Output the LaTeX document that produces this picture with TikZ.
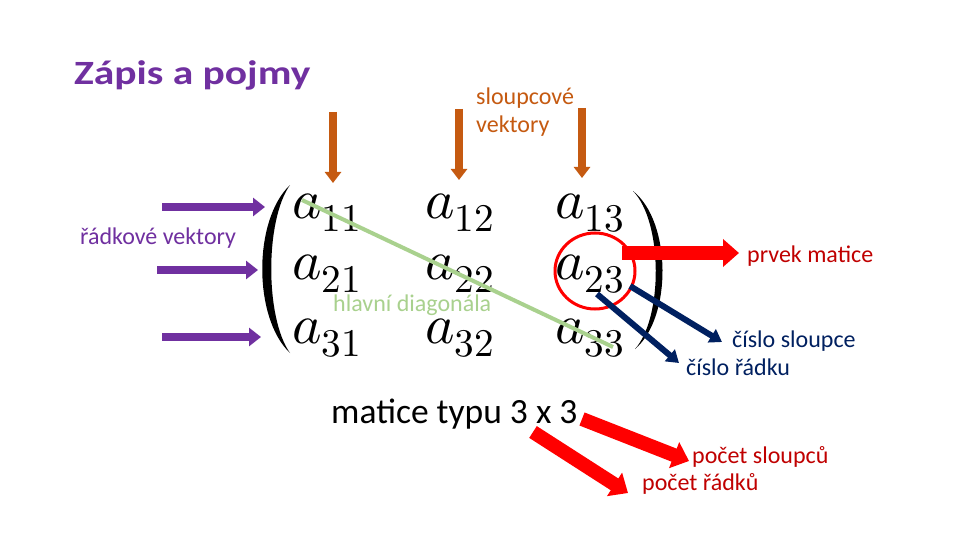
\documentclass[tikz,border=0pt]{standalone}
\usepackage{fontspec}
\usepackage{unicode-math}
\setmainfont{Carlito}
\setmathfont{Latin Modern Math}
\usetikzlibrary{arrows.meta,shapes.geometric}
\definecolor{ppurple}{HTML}{7030A0}
\definecolor{porange}{HTML}{C55A11}
\definecolor{pred}{HTML}{FF0000}
\definecolor{dred}{HTML}{C00000}
\definecolor{pnavy}{HTML}{002060}
\definecolor{pgreen}{HTML}{A9D18E}
\tikzset{
  lbl/.style={anchor=base west, inner sep=0pt, font=\fontsize{24}{29}\selectfont},
  ent/.style={anchor=base west, inner sep=0pt, font=\fontsize{56}{60}\selectfont},
  purplearrow/.style={draw=ppurple, line width=8pt, -{Triangle[length=12pt,width=18pt]}},
  orangearrow/.style={draw=porange, line width=8pt, -{Triangle[length=11pt,width=16pt]}},
  redarrow/.style={draw=pred, line width=14pt, -{Triangle[length=16pt,width=27pt]}},
  navyarrow/.style={draw=pnavy, line width=6pt, -{Triangle[length=12pt,width=15pt]}},
}
\begin{document}
\begin{tikzpicture}[x=1pt,y=-1pt]
\useasboundingbox[fill=white] (0,0) rectangle (960,540);

% title
\node[anchor=base west, inner sep=0pt, text=ppurple, font=\fontsize{34}{40}\bfseries, xscale=1.22] (title) at (74,85) {Zápis a pojmy};

% labels
\node[lbl, text=porange, align=left] (colvec) at (476,105) {sloupcové};
\node[lbl, text=porange] (colvec2) at (476,133) {vektory};
\node[lbl, text=ppurple] (rowvec) at (80,244) {řádkové vektory};

% matrix entries
\node[ent] (a11) at (292,218) {$a_{11}$};
\node[ent] (a12) at (425,218) {$a_{12}$};
\node[ent] (a13) at (555,218) {$a_{13}$};
\node[ent] (a21) at (292,279) {$a_{21}$};
\node[ent] (a22) at (425,279) {$a_{22}$};
\node[ent] (a23) at (555,279) {$a_{23}$};
\node[ent] (a31) at (292,343) {$a_{31}$};
\node[ent] (a32) at (425,343) {$a_{32}$};
\node[ent] (a33) at (555,343) {$a_{33}$};

% parentheses
\fill (290,185) .. controls (253,220) and (253,318) .. (290,353)
      .. controls (265,318) and (265,220) .. (290,185);
\fill (633,191) .. controls (672,222) and (672,318) .. (635,349)
      .. controls (663,318) and (663,222) .. (633,191);

% diagonal label
\node[lbl, text=pgreen] (diaglbl) at (333,311) {hlavní diagonála};

% diagonal line
\coordinate (d1) at (302,200);
\coordinate (d2) at (613,347);
\draw[pgreen, line width=4pt] (d1) -- (d2);

% red circle
\node[draw=pred, line width=3pt, ellipse, minimum width=80pt, minimum height=76pt, inner sep=0pt] (circ) at (595,271) {};

% prvek matice
\node[lbl, text=dred] (prvek) at (747,262) {prvek matice};
\coordinate (p1) at (622,253);
\coordinate (p2) at (739,253);
\draw[redarrow] (p1) -- (p2);

% cislo sloupce / radku
\node[lbl, text=pnavy] (sloupce) at (732,347) {číslo sloupce};
\node[lbl, text=pnavy] (radku) at (686,375) {číslo řádku};
\coordinate (n1s) at (630,286);
\coordinate (n1e) at (722,342);
\coordinate (n2s) at (597,294);
\coordinate (n2e) at (679,363);
\draw[navyarrow] (n1s) -- (n1e);
\draw[navyarrow] (n2s) -- (n2e);

% row vector arrows
\coordinate (r1s) at (162,207); \coordinate (r1e) at (265,207);
\coordinate (r2s) at (157,270); \coordinate (r2e) at (258,270);
\coordinate (r3s) at (162,337); \coordinate (r3e) at (261,337);
\draw[purplearrow] (r1s) -- (r1e);
\draw[purplearrow] (r2s) -- (r2e);
\draw[purplearrow] (r3s) -- (r3e);

% column vector arrows
\coordinate (c1s) at (333,112); \coordinate (c1e) at (333,183);
\coordinate (c2s) at (459,109); \coordinate (c2e) at (459,180);
\coordinate (c3s) at (582,108); \coordinate (c3e) at (582,178);
\draw[orangearrow] (c1s) -- (c1e);
\draw[orangearrow] (c2s) -- (c2e);
\draw[orangearrow] (c3s) -- (c3e);

% matice typu
\node[anchor=base west, inner sep=0pt, font=\fontsize{35.5}{40}\selectfont] (typ) at (331,423) {matice typu 3 x 3};
\node[lbl, text=dred] (psl) at (692,463) {počet sloupců};
\node[lbl, text=dred] (prd) at (642,490) {počet řádků};
\coordinate (t1s) at (582,419);
\coordinate (t1e) at (689,461);
\coordinate (t2s) at (533,432);
\coordinate (t2e) at (628,493);
\draw[redarrow] (t1s) -- (t1e);
\draw[redarrow] (t2s) -- (t2e);
\end{tikzpicture}
\end{document}
